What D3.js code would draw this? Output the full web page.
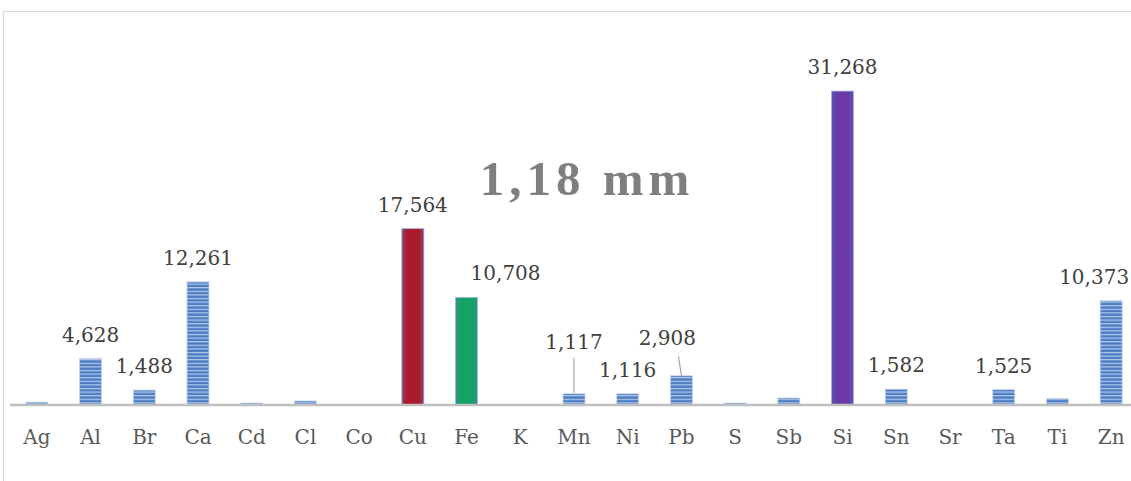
<!DOCTYPE html>
<html>
<head>
<meta charset="utf-8">
<script src="https://cdn.jsdelivr.net/npm/d3@7"></script>
<style>
  html, body { margin: 0; padding: 0; background: #fff; overflow: hidden; }
  svg { display: block; }
  text { font-family: "DejaVu Serif", "Liberation Serif", serif; }
</style>
</head>
<body>
<svg id="chart" width="1131" height="481"></svg>
<script>
// Element concentrations (%) for the 1,18 mm fraction
const elements = ["Ag","Al","Br","Ca","Cd","Cl","Co","Cu","Fe","K","Mn","Ni","Pb","S","Sb","Si","Sn","Sr","Ta","Ti","Zn"];
const values   = [0.3, 4.628, 1.488, 12.261, 0.2, 0.4, 0, 17.564, 10.708, 0, 1.117, 1.116, 2.908, 0.2, 0.7, 31.268, 1.582, 0, 1.525, 0.65, 10.373];
// Only these elements carry a value label
const labelled = ["Al","Br","Ca","Cu","Fe","Mn","Ni","Pb","Si","Sn","Ta","Zn"];
const titleText = "1,18 mm";

const fmt = v => d3.format(",.3f")(v).replace(".", ",");

const svg = d3.select("#chart");
const W = 1131, H = 481;

// chart frame
svg.append("rect")
  .attr("x", 3.5).attr("y", 11.5)
  .attr("width", W + 20).attr("height", H + 20)
  .attr("fill", "#fff").attr("stroke", "#d9d9d9").attr("stroke-width", 1.2);

const x = d3.scaleBand().domain(elements).range([10, 1138]).paddingInner(0.59).paddingOuter(0.295);
const y = d3.scaleLinear().domain([0, 35]).range([405, 53.6]);

const defs = svg.append("defs");

// horizontal stripe fill for most bars
const pat = defs.append("pattern")
  .attr("id", "stripes").attr("patternUnits", "userSpaceOnUse")
  .attr("width", 8).attr("height", 3.6);
pat.append("rect").attr("width", 8).attr("height", 3.6).attr("fill", "#c3d3ec");
pat.append("rect").attr("y", 0.3).attr("width", 8).attr("height", 2.5).attr("fill", "#4a7cc4");

// solid highlight colours with bluish edges
const solids = { Cu: ["#8a4474", "#a81c2c"], Fe: ["#3a8f92", "#14a265"], Si: ["#5658b6", "#6c3aa6"] };
Object.entries(solids).forEach(([k, [edge, mid]]) => {
  const g = defs.append("linearGradient").attr("id", "g" + k).attr("x1", 0).attr("x2", 1).attr("y1", 0).attr("y2", 0);
  g.append("stop").attr("offset", "0%").attr("stop-color", edge);
  g.append("stop").attr("offset", "22%").attr("stop-color", mid);
  g.append("stop").attr("offset", "78%").attr("stop-color", mid);
  g.append("stop").attr("offset", "100%").attr("stop-color", edge);
});

const data = elements.map((e, i) => ({ e, v: values[i] }));

svg.append("g").selectAll("rect")
  .data(data.filter(d => d.v > 0))
  .join("rect")
  .attr("x", d => x(d.e))
  .attr("width", x.bandwidth())
  .attr("y", d => y(d.v))
  .attr("height", d => y(0) - y(d.v))
  .attr("fill", d => solids[d.e] ? `url(#g${d.e})` : "url(#stripes)")
  .attr("stroke", d => solids[d.e] ? "#9fb3de" : "#c8d6ee")
  .attr("stroke-width", 0.8);

// category axis
const axis = svg.append("g").attr("transform", `translate(0,${y(0)})`)
  .call(d3.axisBottom(x).tickSize(0).tickPadding(25));
axis.select(".domain").attr("d", "M10,0H1131").attr("stroke", "#bfbfbf").attr("stroke-width", 2.6);
axis.selectAll("text")
  .attr("font-size", 20).attr("fill", "#595959")
  .style("font-family", '"DejaVu Serif", serif');

// label placement adjustments (px) for crowded labels
const labelShift = { Fe: [39, 0], Mn: [0, -28], Pb: [-14, -14], Zn: [-17, 0] };
const leaders = { Mn: [[0, -36], [0, -1]], Pb: [[-3, -20], [0, 0]] };

const lab = svg.append("g");
data.filter(d => labelled.includes(d.e)).forEach(d => {
  const [dx, dy] = labelShift[d.e] || [0, 0];
  const cx = x(d.e) + x.bandwidth() / 2;
  const top = y(d.v);
  if (leaders[d.e]) {
    const [[x1, y1], [x2, y2]] = leaders[d.e];
    lab.append("line")
      .attr("x1", cx + x1).attr("y1", top + y1)
      .attr("x2", cx + x2).attr("y2", top + y2)
      .attr("stroke", "#a6a6a6").attr("stroke-width", 1.2);
  }
  lab.append("text")
    .attr("x", cx + dx).attr("y", top - 24 + dy)
    .attr("dy", "0.35em")
    .attr("text-anchor", "middle")
    .attr("font-size", 20).attr("fill", "#404040")
    .text(fmt(d.v));
});

// chart title
svg.append("text")
  .attr("x", 587).attr("y", 178).attr("dy", "0.35em")
  .attr("text-anchor", "middle")
  .attr("font-size", 49).attr("font-weight", "bold")
  .attr("letter-spacing", 5)
  .attr("fill", "#7f7f7f")
  .style("font-family", '"Liberation Serif", serif')
  .text(titleText);
</script>
</body>
</html>
